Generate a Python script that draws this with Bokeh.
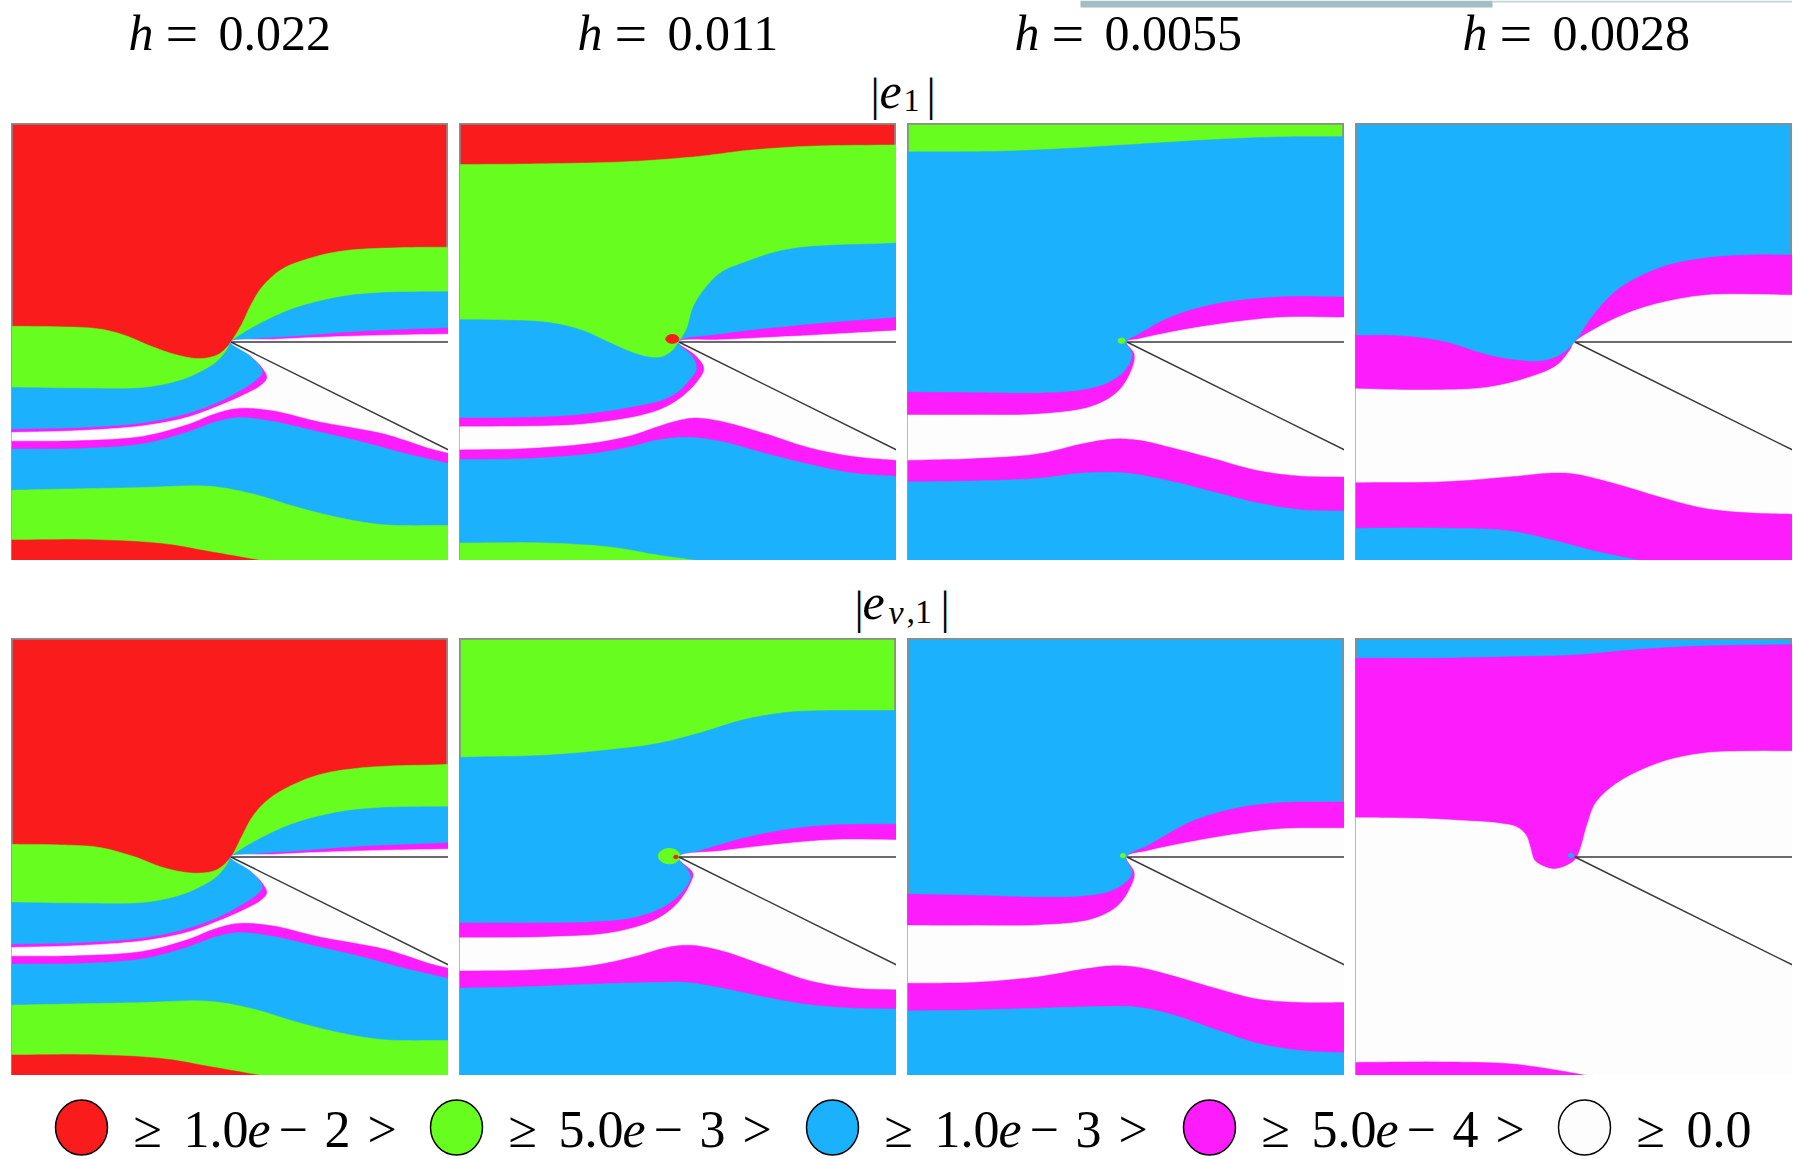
from bokeh.plotting import figure
from bokeh.layouts import column, row
from bokeh.models import Range1d, Spacer
from bokeh.core.properties import value
from bokeh.embed import file_html
from bokeh.resources import INLINE

# ---------------- colours of the five error levels ----------------
RED, GREEN, BLUE, MAGENTA, WHITE = "#fa1c1c", "#67fd1f", "#1bb1fd", "#fc1cfc", "#fdfdfd"
level_colors = [RED, GREEN, BLUE, MAGENTA, WHITE]
level_mantissa = ["1.0", "5.0", "1.0", "5.0", "0.0"]
level_exponent = ["2", "3", "3", "4", ""]

h_labels = ["0.022", "0.011", "0.0055", "0.0028"]

# notch geometry (unit square panel)
tip_x, tip_y = 0.502, 0.5
notch_low_y = 0.253

# ---------------- boundary curves ----------------
# each curve: colour of the region BELOW the curve, x list, y list
# |e1|, h = 0.022  (top colour red)
e1_h1_A_x = [0, .1, .2, .26, .32, .38, .43, .47, .49, .502, .526, .546, .572, .618, .684, .763, .895, 1]
e1_h1_A_y = [.536, .535, .53, .515, .49, .47, .462, .47, .485, .5, .539, .581, .624, .666, .692, .709, .716, .717]
e1_h1_B_x = [0, .15, .3, .38, .43, .47, .495, .502, .53, .58, .65, .75, .85, 1]
e1_h1_B_y = [.396, .394, .395, .41, .43, .455, .485, .5, .52, .548, .578, .603, .613, .615]
e1_h1_C_x = [0, .15, .3, .4, .47, .52, .56, .575, .565, .535, .502, .55, .65, .8, 1]
e1_h1_C_y = [.30, .303, .314, .335, .36, .386, .412, .43, .45, .478, .5, .506, .513, .524, .532]
e1_h1_D_x = [0, .15, .3, .4, .47, .53, .57, .585, .575, .545, .502, .6, .8, 1]
e1_h1_D_y = [.293, .297, .308, .327, .352, .378, .40, .418, .44, .47, .5, .506, .514, .518]
e1_h1_E_x = [0, .15, .3, .4, .47, .52, .6, .7, .8, .85, .9, .95, 1]
e1_h1_E_y = [.273, .274, .284, .31, .337, .348, .342, .318, .30, .29, .275, .258, .245]
e1_h1_F_x = [0, .15, .3, .4, .47, .52, .6, .7, .8, .9, 1]
e1_h1_F_y = [.255, .256, .267, .293, .318, .327, .318, .295, .272, .245, .222]
e1_h1_G_x = [0, .15, .3, .45, .55, .65, .75, .85, 1]
e1_h1_G_y = [.161, .164, .167, .17, .153, .123, .098, .082, .08]
e1_h1_H_x = [0, .2, .35, .45, .57]
e1_h1_H_y = [.047, .047, .038, .021, 0]

# |e1|, h = 0.011  (top colour red)
e1_h2_A_x = [0, .2, .39, .55, .655, .8, 1]
e1_h2_A_y = [.906, .908, .913, .925, .938, .948, .951]
e1_h2_B_x = [0, .1, .2, .28, .34, .39, .43, .46, .485, .502, .52, .535, .563, .6, .655, .72, .787, 1]
e1_h2_B_y = [.551, .55, .545, .527, .50, .478, .466, .465, .478, .5, .53, .58, .624, .66, .683, .705, .717, .726]
e1_h2_C_x = [0, .15, .26, .33, .39, .46, .5, .524, .543, .535, .502, .6, .8, 1]
e1_h2_C_y = [.326, .327, .332, .34, .35, .365, .385, .41, .437, .465, .5, .518, .54, .556]
e1_h2_D_x = [0, .15, .26, .35, .42, .47, .51, .545, .56, .54, .502, .6, .8, 1]
e1_h2_D_y = [.306, .307, .31, .32, .333, .35, .375, .41, .44, .47, .5, .505, .515, .526]
e1_h2_E_x = [0, .15, .3, .39, .45, .5, .54, .6, .7, .8, .9, 1]
e1_h2_E_y = [.253, .256, .268, .285, .305, .32, .326, .318, .29, .258, .238, .229]
e1_h2_F_x = [0, .15, .3, .39, .45, .52, .6, .7, .8, .9, 1]
e1_h2_F_y = [.231, .233, .244, .26, .275, .282, .272, .245, .22, .20, .193]
e1_h2_G_x = [0, .2, .35, .45, .543]
e1_h2_G_y = [.04, .04, .03, .013, 0]

# |e1|, h = 0.0055  (top colour green)
e1_h3_B_x = [0, .2, .35, .5, .7, .85, 1]
e1_h3_B_y = [.935, .936, .942, .951, .963, .969, .97]
e1_h3_C_x = [0, .15, .3, .4, .46, .5, .515, .502, .53, .6, .7, .85, 1]
e1_h3_C_y = [.385, .384, .383, .39, .407, .437, .471, .5, .518, .556, .586, .603, .603]
e1_h3_D_x = [0, .15, .3, .42, .48, .51, .52, .502, .53, .6, .7, .85, 1]
e1_h3_D_y = [.333, .333, .335, .352, .385, .429, .471, .5, .507, .522, .539, .556, .556]
e1_h3_E_x = [0, .15, .3, .4, .47, .53, .6, .7, .8, .9, 1]
e1_h3_E_y = [.229, .233, .244, .267, .278, .275, .259, .233, .206, .193, .191]
e1_h3_F_x = [0, .15, .3, .4, .5, .6, .7, .8, .9, 1]
e1_h3_F_y = [.18, .182, .188, .20, .20, .182, .157, .132, .116, .113]

# |e1|, h = 0.0028  (top colour blue)
e1_h4_C_x = [0, .1, .2, .3, .37, .43, .47, .502, .54, .6, .7, .8, .9, 1]
e1_h4_C_y = [.515, .514, .501, .471, .458, .457, .471, .5, .556, .62, .671, .692, .699, .699]
e1_h4_D_x = [0, .15, .3, .4, .46, .49, .502, .55, .62, .7, .8, .9, 1]
e1_h4_D_y = [.393, .39, .396, .42, .446, .48, .5, .531, .565, .59, .607, .609, .607]
e1_h4_E_x = [0, .2, .35, .45, .5, .6, .7, .8, .9, 1]
e1_h4_E_y = [.178, .18, .191, .20, .198, .174, .144, .119, .109, .106]
e1_h4_F_x = [0, .2, .35, .45, .55, .65]
e1_h4_F_y = [.074, .074, .068, .047, .021, 0]

# |e_nu,1|, h = 0.022 (top red); lower curves as in |e1|, h = 0.022
en_h1_A_x = [0, .1, .2, .28, .35, .42, .47, .502, .526, .55, .58, .62, .7, .8, 1]
en_h1_A_y = [.529, .528, .522, .501, .475, .463, .471, .5, .545, .59, .625, .653, .687, .704, .712]

# |e_nu,1|, h = 0.011 (top green)
en_h2_B_x = [0, .2, .35, .45, .55, .65, .75, .85, 1]
en_h2_B_y = [.728, .733, .746, .759, .784, .814, .831, .835, .835]
en_h2_C_x = [0, .15, .3, .4, .47, .51, .53, .52, .502, .55, .65, .75, .85, 1]
en_h2_C_y = [.349, .349, .351, .361, .387, .42, .454, .475, .5, .514, .543, .563, .573, .575]
en_h2_D_x = [0, .2, .35, .45, .5, .53, .535, .502, .6, .7, .85, 1]
en_h2_D_y = [.315, .317, .327, .357, .395, .442, .463, .5, .514, .526, .539, .539]
en_h2_E_x = [0, .15, .3, .4, .48, .53, .6, .7, .8, .9, 1]
en_h2_E_y = [.239, .241, .251, .272, .294, .298, .285, .251, .217, .20, .196]
en_h2_F_x = [0, .15, .3, .45, .52, .6, .7, .8, .9, 1]
en_h2_F_y = [.20, .203, .209, .213, .213, .20, .179, .162, .154, .152]

# |e_nu,1|, h = 0.0055 (top blue)
en_h3_C_x = [0, .15, .3, .4, .46, .5, .515, .502, .55, .65, .75, .85, 1]
en_h3_C_y = [.415, .412, .408, .41, .42, .442, .463, .5, .526, .581, .611, .624, .626]
en_h3_D_x = [0, .15, .3, .42, .48, .51, .52, .502, .55, .65, .75, .85, 1]
en_h3_D_y = [.343, .343, .344, .357, .387, .429, .463, .5, .514, .535, .552, .564, .566]
en_h3_E_x = [0, .15, .3, .4, .47, .53, .6, .7, .8, .9, 1]
en_h3_E_y = [.211, .213, .226, .243, .251, .247, .23, .201, .175, .167, .167]
en_h3_F_x = [0, .15, .3, .45, .52, .6, .7, .8, .9, 1]
en_h3_F_y = [.148, .15, .154, .158, .157, .141, .107, .074, .057, .052]

# |e_nu,1|, h = 0.0028 (top blue)
en_h4_C_x = [0, .2, .35, .5, .65, .8, 1]
en_h4_C_y = [.955, .955, .958, .962, .975, .983, .986]
en_h4_D_x = [0, .15, .25, .33, .37, .39, .40, .41, .44, .46, .49, .505, .515, .53, .55, .6, .7, .8, .9, 1]
en_h4_D_y = [.59, .588, .583, .577, .568, .55, .522, .492, .475, .473, .484, .497, .52, .573, .624, .67, .717, .738, .742, .742]
en_h4_E_x = [0, .2, .35, .45, .53]
en_h4_E_y = [.03, .031, .027, .014, 0]

# small blobs at the crack tip: (colour, x, y, width, height)
e1_h2_blobs = [(RED, .487, .507, .03, .02)]
e1_h3_blobs = [(GREEN, .49, .503, .016, .012)]
en_h2_blobs = [(GREEN, .48, .502, .05, .035), (RED, .495, .50, .01, .008)]
en_h3_blobs = [(GREEN, .493, .503, .012, .01)]
en_h4_blobs = [(BLUE, .493, .503, .012, .01)]

panel_specs = [
    (RED, [(GREEN, e1_h1_A_x, e1_h1_A_y), (BLUE, e1_h1_B_x, e1_h1_B_y), (MAGENTA, e1_h1_C_x, e1_h1_C_y),
           (WHITE, e1_h1_D_x, e1_h1_D_y), (MAGENTA, e1_h1_E_x, e1_h1_E_y), (BLUE, e1_h1_F_x, e1_h1_F_y),
           (GREEN, e1_h1_G_x, e1_h1_G_y), (RED, e1_h1_H_x, e1_h1_H_y)], []),
    (RED, [(GREEN, e1_h2_A_x, e1_h2_A_y), (BLUE, e1_h2_B_x, e1_h2_B_y), (MAGENTA, e1_h2_C_x, e1_h2_C_y),
           (WHITE, e1_h2_D_x, e1_h2_D_y), (MAGENTA, e1_h2_E_x, e1_h2_E_y), (BLUE, e1_h2_F_x, e1_h2_F_y),
           (GREEN, e1_h2_G_x, e1_h2_G_y)], e1_h2_blobs),
    (GREEN, [(BLUE, e1_h3_B_x, e1_h3_B_y), (MAGENTA, e1_h3_C_x, e1_h3_C_y), (WHITE, e1_h3_D_x, e1_h3_D_y),
             (MAGENTA, e1_h3_E_x, e1_h3_E_y), (BLUE, e1_h3_F_x, e1_h3_F_y)], e1_h3_blobs),
    (BLUE, [(MAGENTA, e1_h4_C_x, e1_h4_C_y), (WHITE, e1_h4_D_x, e1_h4_D_y),
            (MAGENTA, e1_h4_E_x, e1_h4_E_y), (BLUE, e1_h4_F_x, e1_h4_F_y)], []),
    (RED, [(GREEN, en_h1_A_x, en_h1_A_y), (BLUE, e1_h1_B_x, e1_h1_B_y), (MAGENTA, e1_h1_C_x, e1_h1_C_y),
           (WHITE, e1_h1_D_x, e1_h1_D_y), (MAGENTA, e1_h1_E_x, e1_h1_E_y), (BLUE, e1_h1_F_x, e1_h1_F_y),
           (GREEN, e1_h1_G_x, e1_h1_G_y), (RED, e1_h1_H_x, e1_h1_H_y)], []),
    (GREEN, [(BLUE, en_h2_B_x, en_h2_B_y), (MAGENTA, en_h2_C_x, en_h2_C_y), (WHITE, en_h2_D_x, en_h2_D_y),
             (MAGENTA, en_h2_E_x, en_h2_E_y), (BLUE, en_h2_F_x, en_h2_F_y)], en_h2_blobs),
    (BLUE, [(MAGENTA, en_h3_C_x, en_h3_C_y), (WHITE, en_h3_D_x, en_h3_D_y),
            (MAGENTA, en_h3_E_x, en_h3_E_y), (BLUE, en_h3_F_x, en_h3_F_y)], en_h3_blobs),
    (BLUE, [(MAGENTA, en_h4_C_x, en_h4_C_y), (WHITE, en_h4_D_x, en_h4_D_y),
            (MAGENTA, en_h4_E_x, en_h4_E_y)], en_h4_blobs),
]

FONT = value("Liberation Serif")
PANEL = 437
GAP = 11


def smooth_path(xs, ys, n=10):
    """Centripetal Catmull-Rom drawing path through the read points (drawing only)."""
    pts = list(zip(xs, ys))
    if len(pts) < 3:
        return list(xs), list(ys)
    first = (2 * pts[0][0] - pts[1][0], 2 * pts[0][1] - pts[1][1])
    last = (2 * pts[-1][0] - pts[-2][0], 2 * pts[-1][1] - pts[-2][1])
    P = [first] + pts + [last]
    ox, oy = [pts[0][0]], [pts[0][1]]

    def knot(t, a, b):
        d = ((b[0] - a[0]) ** 2 + (b[1] - a[1]) ** 2) ** 0.25
        return t + max(d, 1e-6)

    def mix(a, b, ta, tb, t):
        wa, wb = (tb - t) / (tb - ta), (t - ta) / (tb - ta)
        return (wa * a[0] + wb * b[0], wa * a[1] + wb * b[1])

    for i in range(1, len(P) - 2):
        p0, p1, p2, p3 = P[i - 1], P[i], P[i + 1], P[i + 2]
        t0 = 0.0
        t1 = knot(t0, p0, p1)
        t2 = knot(t1, p1, p2)
        t3 = knot(t2, p2, p3)
        for k in range(1, n + 1):
            t = t1 + (t2 - t1) * k / n
            a1 = mix(p0, p1, t0, t1, t)
            a2 = mix(p1, p2, t1, t2, t)
            a3 = mix(p2, p3, t2, t3, t)
            b1 = mix(a1, a2, t0, t2, t)
            b2 = mix(a2, a3, t1, t3, t)
            c = mix(b1, b2, t1, t2, t)
            ox.append(c[0])
            oy.append(c[1])
    return ox, oy


def make_panel(top_color, curves, blobs):
    p = figure(width=PANEL, height=PANEL, x_range=Range1d(0, 1), y_range=Range1d(0, 1),
               output_backend="svg", toolbar_location=None, x_axis_location=None,
               y_axis_location=None, min_border=0, background_fill_color=top_color,
               border_fill_color="white", outline_line_color="#8c8c8c", outline_line_width=2.5)
    p.grid.visible = False
    for col, xs, ys in curves:
        sx, sy = smooth_path(xs, ys)
        px = sx + [xs[-1], xs[0]]
        py = sy + [0, 0]
        p.patch(px, py, fill_color=col, line_color=col, line_width=0.5)
    for col, bx, by, bw, bh in blobs:
        p.ellipse(x=[bx], y=[by], width=bw, height=bh, fill_color=col, line_color=col)
    # the notch (outside of the domain)
    p.patch([tip_x, 1, 1], [tip_y, tip_y, notch_low_y], fill_color="white", line_color=None)
    p.line([1, tip_x, 1], [tip_y, tip_y, notch_low_y], line_color="#3a3a3a", line_width=1.5)
    return p


panels = [make_panel(*spec) for spec in panel_specs]


def panel_row(ps):
    kids = [Spacer(width=11, height=PANEL)]
    for i, p in enumerate(ps):
        if i:
            kids.append(Spacer(width=GAP, height=PANEL))
        kids.append(p)
    return row(*kids, spacing=0)


W = 1792


def text_fig(height):
    f = figure(width=W, height=height, x_range=Range1d(0, W), y_range=Range1d(0, height),
               output_backend="svg", toolbar_location=None, x_axis_location=None,
               y_axis_location=None, min_border=0, outline_line_color=None,
               background_fill_color="white", border_fill_color="white")
    f.grid.visible = False
    return f


def put(f, top, x, base, s, size, italic=False):
    """Place text with its baseline at page y = base (figure top at page y = top)."""
    f.text(x=[x], y=[top - base + 0.33 * size], text=[s], text_font=FONT,
           text_font_size=f"{size}px", text_font_style="italic" if italic else "normal",
           text_align="left", text_baseline="middle", text_color="black")


# ---------- header: h labels and |e1| ----------
HEADER_H = 123
header = text_fig(HEADER_H)
# thin grey bar at the very top of the reference image
header.quad(left=[1080], right=[1492], bottom=[HEADER_H - 7], top=[HEADER_H], fill_color="#a3bec2", line_color=None)
header.quad(left=[1492], right=[W], bottom=[HEADER_H - 2], top=[HEADER_H], fill_color="#c4d6d8", line_color=None)
h_starts = [128, 577, 1014, 1462]  # page x of the italic h
for hx, lab in zip(h_starts, h_labels):
    put(header, HEADER_H, hx, 49, "h", 50, italic=True)
    put(header, HEADER_H, hx + 37, 52, "=", 58)
    put(header, HEADER_H, hx + 90, 49, lab, 50)
# |e1|
put(header, HEADER_H, 870, 109, "|", 46)
put(header, HEADER_H, 879, 107, "e", 50, italic=True)
put(header, HEADER_H, 903, 111, "1", 32)
put(header, HEADER_H, 926, 109, "|", 46)

# ---------- middle label |e_nu,1| ----------
MID_H = 78
mid = text_fig(MID_H)
put(mid, 638, 854, 622, "|", 46)
put(mid, 638, 862, 618, "e", 50, italic=True)
put(mid, 638, 888, 623, "ν", 34, italic=True)
put(mid, 638, 906, 623, ",1", 34)
put(mid, 638, 940, 622, "|", 46)

# ---------- legend ----------
LEG_H = 83
LEG_BOTTOM = 1075 + LEG_H
leg = text_fig(LEG_H)
centers = [81, 456, 832, 1209, 1584]
leg.ellipse(x=centers, y=[LEG_BOTTOM - 1127] * 5, width=52, height=55,
            fill_color=level_colors, line_color="black", line_width=1.5)
for c, man, ex in zip(centers, level_mantissa, level_exponent):
    put(leg, LEG_BOTTOM, c + 52, 1146, "≥", 52)
    put(leg, LEG_BOTTOM, c + 102, 1146, man, 52)
    if ex:
        put(leg, LEG_BOTTOM, c + 166, 1146, "e", 52, italic=True)
        put(leg, LEG_BOTTOM, c + 197, 1146, "−", 52)
        put(leg, LEG_BOTTOM, c + 243, 1146, ex, 52)
        put(leg, LEG_BOTTOM, c + 286, 1146, ">", 52)

layout = column(header, panel_row(panels[:4]), mid, panel_row(panels[4:]), leg, spacing=0)

open("out.html", "w").write(file_html(layout, INLINE))
